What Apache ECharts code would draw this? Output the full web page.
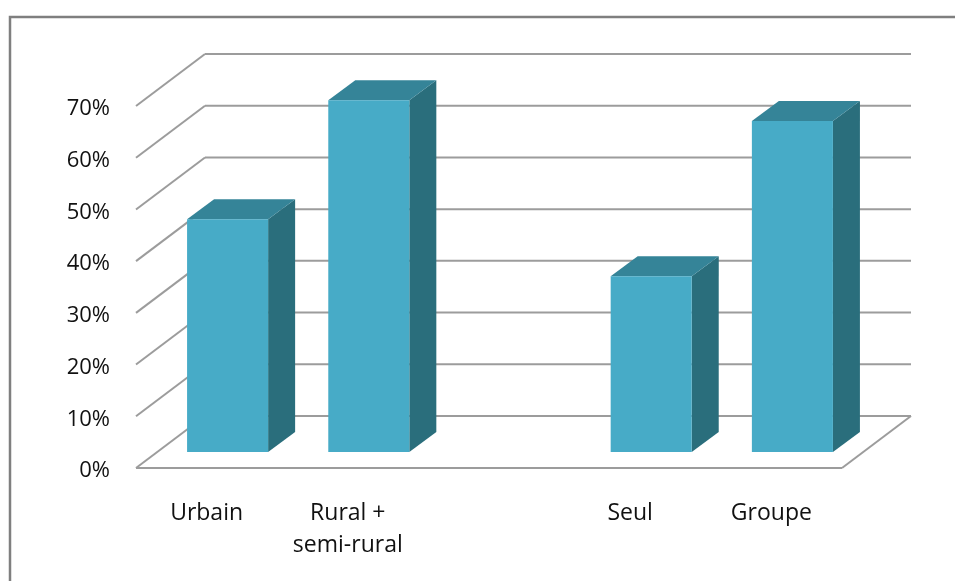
<!DOCTYPE html>
<html>
<head>
<meta charset="utf-8">
<style>html,body{margin:0;padding:0;background:#fff}#c{width:955px;height:581px}</style>
<script src="https://cdn.jsdelivr.net/npm/echarts@6/dist/echarts.min.js"></script>
</head>
<body>
<div id="c"></div>
<script>
const categories = ['Urbain', 'Rural +\nsemi-rural', '', 'Seul', 'Groupe'];
const barValues = [45, 68, null, 34, 64];
const wallTicks = [0, 10, 20, 30, 40, 50, 60, 70];

const WALL_DX = 69, WALL_DY = -52;
const BAR_DX = 21, BAR_DY = -16, BAR_DEPTH_X = 27, BAR_DEPTH_Y = -20, BAR_RATIO = 0.574;
const LINE = { stroke: '#9c9c9c', lineWidth: 2, fill: null };
const FRONT = '#47ABC7', TOP = '#358498', SIDE = '#2A6E7C';

const chart = echarts.init(document.getElementById('c'), null, { renderer: 'canvas' });

function renderWall(params, api) {
  const v = api.value(0);
  const p = api.coord([0, v]);
  const cs = params.coordSys;
  const y = p[1], x0 = cs.x, x1 = cs.x + cs.width;
  const children = [
    { type: 'line', shape: { x1: x0, y1: y, x2: x0 + WALL_DX, y2: y + WALL_DY }, style: LINE },
    { type: 'line', shape: { x1: x0 + WALL_DX, y1: y + WALL_DY, x2: x1 + WALL_DX, y2: y + WALL_DY }, style: LINE }
  ];
  if (v === 0) {
    children.push({ type: 'line', shape: { x1: x0, y1: y, x2: x1, y2: y }, style: LINE });
    children.push({ type: 'line', shape: { x1: x1, y1: y, x2: x1 + WALL_DX, y2: y + WALL_DY }, style: LINE });
  }
  return { type: 'group', children };
}

function renderBar(params, api) {
  if (api.value(1) == null || isNaN(api.value(1))) return;
  const idx = api.value(0);
  const t = api.coord([idx, api.value(1)]);
  const b = api.coord([idx, 0]);
  const w = api.size([1, 0])[0] * BAR_RATIO;
  const l = t[0] + BAR_DX - w / 2, r = l + w;
  const top = t[1] + BAR_DY, bot = b[1] + BAR_DY;
  const dx = BAR_DEPTH_X, dy = BAR_DEPTH_Y;
  return {
    type: 'group',
    children: [
      { type: 'polygon', shape: { points: [[r, top], [r + dx, top + dy], [r + dx, bot + dy], [r, bot]] }, style: { fill: SIDE } },
      { type: 'polygon', shape: { points: [[l, top], [l + dx, top + dy], [r + dx, top + dy], [r, top]] }, style: { fill: TOP } },
      { type: 'rect', shape: { x: l, y: top, width: w, height: bot - top }, style: { fill: FRONT } }
    ]
  };
}

chart.setOption({
  animation: false,
  backgroundColor: '#fff',
  textStyle: { fontFamily: 'Open Sans' },
  graphic: [{
    type: 'rect', silent: true, z: 0,
    shape: { x: 10, y: 17, width: 1000, height: 700 },
    style: { fill: null, stroke: '#7f7f7f', lineWidth: 2.5 }
  }],
  grid: { left: 136, right: 113, top: 106, bottom: 113 },
  xAxis: {
    type: 'category',
    data: categories,
    axisLine: { show: false },
    axisTick: { show: false },
    axisLabel: { color: '#111', fontFamily: 'Open Sans', fontSize: 23, margin: 29, lineHeight: 32, interval: 0 }
  },
  yAxis: {
    type: 'value',
    min: 0,
    max: 70,
    interval: 10,
    splitLine: { show: false },
    axisLine: { show: false },
    axisTick: { show: false },
    axisLabel: { color: '#111', fontFamily: 'Open Sans', fontSize: 22, margin: 26, verticalAlign: 'top', lineHeight: 6, formatter: '{value}%' }
  },
  series: [
    {
      type: 'custom', name: 'wall', coordinateSystem: 'cartesian2d', clip: false, silent: true, z: 1,
      renderItem: renderWall,
      encode: { y: 0 },
      data: wallTicks.map(v => [v])
    },
    {
      type: 'custom', name: 'bars', coordinateSystem: 'cartesian2d', clip: false, z: 2,
      renderItem: renderBar,
      encode: { x: 0, y: 1 },
      data: barValues.map((v, i) => [i, v])
    }
  ]
});
</script>
</body>
</html>
